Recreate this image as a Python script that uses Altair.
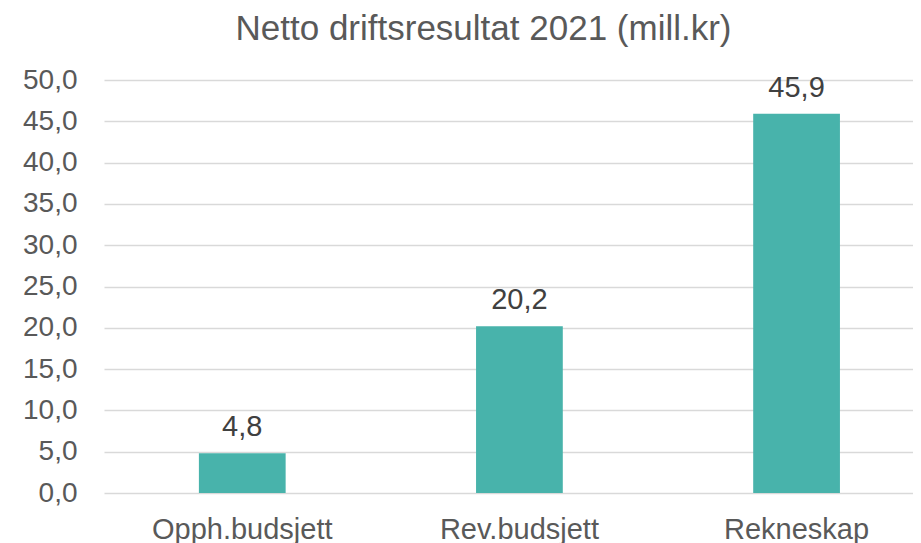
import altair as alt
import pandas as pd

categories = ["Opph.budsjett", "Rev.budsjett", "Rekneskap"]
values = [4.8, 20.2, 45.9]
value_labels = ["4,8", "20,2", "45,9"]
y_ticks = [0, 5, 10, 15, 20, 25, 30, 35, 40, 45, 50]

df = pd.DataFrame({"cat": categories, "val": values, "lab": value_labels})

FONT = "Liberation Sans"

x = alt.X(
    "cat:N", sort=categories, title=None,
    scale=alt.Scale(paddingInner=0.687, paddingOuter=0.303, align=0.565),
    axis=alt.Axis(labelAngle=0, labelFontSize=29, labelColor="#595959", labelFont=FONT,
                  ticks=False, domain=False, labelPadding=22, grid=False, labelLimit=400),
)
y = alt.Y(
    "val:Q", title=None,
    scale=alt.Scale(domain=[0, 50], nice=False),
    axis=alt.Axis(values=y_ticks, labelExpr="replace(format(datum.value, '.1f'), '.', ',')",
                  labelFontSize=28, labelColor="#595959", labelFont=FONT,
                  ticks=False, domain=False, labelPadding=27,
                  grid=True, gridColor="#D9D9D9", gridWidth=1.5),
)

bars = alt.Chart(df).mark_bar(color="#48B3AB").encode(x=x, y=y)
text = alt.Chart(df).mark_text(
    baseline="alphabetic", dy=-17, fontSize=29, color="#404040", font=FONT
).encode(x=alt.X("cat:N", sort=categories), y="val:Q", text="lab:N")

chart = (bars + text).properties(
    width=809, height=413,
    title=alt.TitleParams("Netto driftsresultat 2021 (mill.kr)", fontSize=35, color="#595959",
                          font=FONT, fontWeight="normal", anchor="middle", dx=-25,
                          offset=19),
    padding={"left": 96, "top": 72, "right": 0, "bottom": 50},
    autosize="none",
).configure_view(stroke=None)

chart.save("out.html", embed_options={"renderer": "svg", "actions": False})
